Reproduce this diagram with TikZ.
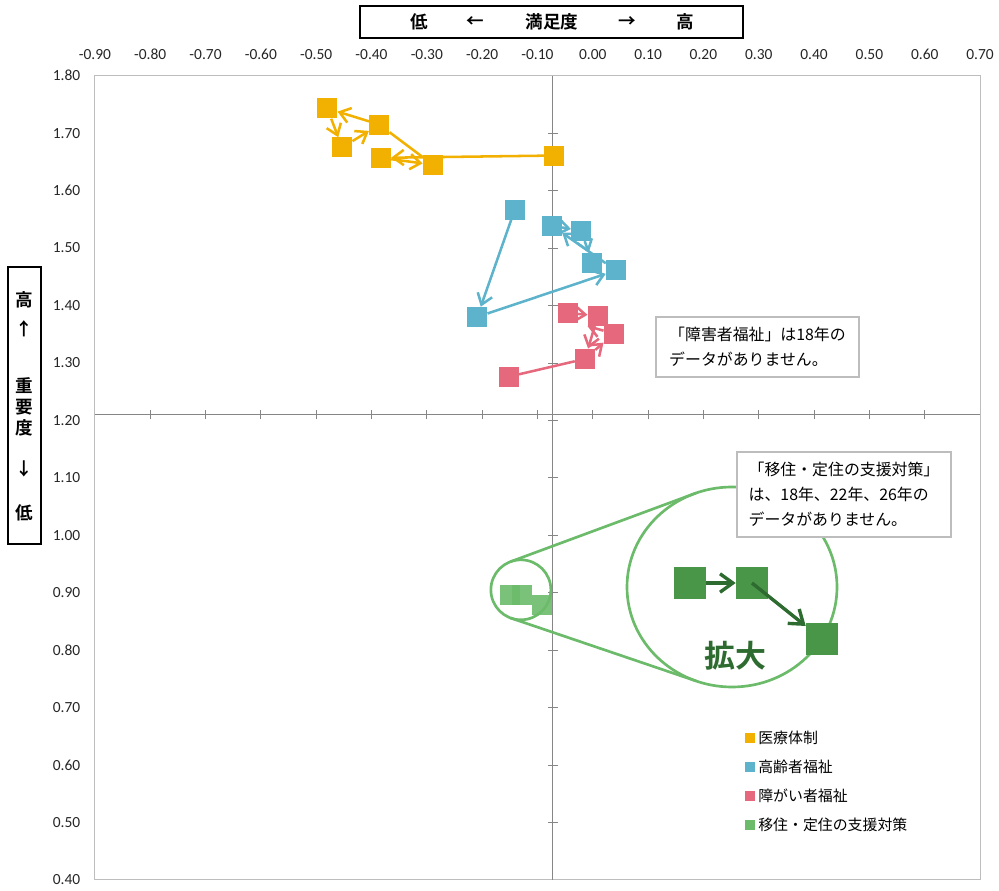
\documentclass[tikz,border=0pt]{standalone}
\usepackage{fontspec}
\setmainfont{Carlito}
\newfontfamily\jp{Noto Sans CJK JP}[BoldFont={Noto Sans CJK JP Bold}]
\usetikzlibrary{arrows.meta,calc}

\pgfdeclarelayer{back}
\pgfsetlayers{back,main}

\definecolor{iryo}{HTML}{F2B000}
\definecolor{korei}{HTML}{5DB3CB}
\definecolor{shogai}{HTML}{E6687C}
\definecolor{iju}{HTML}{6CBB6A}
\definecolor{ijudark}{HTML}{4A9649}
\definecolor{ijuline}{HTML}{2E6B30}
\definecolor{axisgray}{HTML}{868686}
\definecolor{framegray}{HTML}{BDBDBD}

\tikzset{
  mk/.style={rectangle, inner sep=0pt, minimum size=0.5cm, fill=#1},
  trend/.style={draw=#1, line width=1.8pt, -{Straight Barb[length=2.6mm,width=3.8mm]}},
  trendplain/.style={draw=#1, line width=1.8pt},
  bigarrow/.style={draw=ijuline, line width=2.4pt, -{Straight Barb[length=3.2mm,width=4.6mm]}},
  axtick/.style={draw=axisgray, line width=0.6pt},
  ticklab/.style={font=\fontsize{11}{13}\selectfont, text=black!85, inner sep=0pt},
  memo/.style={draw=framegray, fill=white, line width=0.8pt, align=left, inner sep=0pt, font=\jp\fontsize{11.3}{17.8}\selectfont},
  lgtext/.style={font=\jp\fontsize{10.6}{12}\selectfont, anchor=west, inner sep=0pt},
  headtext/.style={font=\jp\bfseries\fontsize{12.5}{14}\selectfont, inner sep=0pt},
  zoomline/.style={draw=iju, line width=1.9pt},
}

\begin{document}
\begin{tikzpicture}[x=0.025cm, y=0.025cm]
  \useasboundingbox (0,0) rectangle (999,890);

  % 満足度 / 重要度 の散布図
  \begin{scope}[shift={(592.8,-219.7)}, x=13.8275cm, y=14.3575cm]
    \begin{pgfonlayer}{back}
      \draw[framegray, line width=0.7pt] (-0.9,0.4) rectangle (0.7,1.8);
      \draw[axisgray, line width=0.7pt] (-0.9,1.21) -- (0.7,1.21);
      \draw[axisgray, line width=0.7pt] (-0.072,0.4) -- (-0.072,1.8);
      \foreach \i in {-8,...,6}
        \draw[axtick] (\i/10,1.21) +(0,-0.12cm) -- +(0,0.12cm);
      \foreach \i in {5,...,17}
        \draw[axtick] (-0.072,\i/10) +(-0.12cm,0) -- +(0.12cm,0);
    \end{pgfonlayer}
    \foreach \x/\t [count=\k] in {-0.9/-0.90, -0.8/-0.80, -0.7/-0.70, -0.6/-0.60,
        -0.5/-0.50, -0.4/-0.40, -0.3/-0.30, -0.2/-0.20, -0.1/-0.10, 0/0.00,
        0.1/0.10, 0.2/0.20, 0.3/0.30, 0.4/0.40, 0.5/0.50, 0.6/0.60, 0.7/0.70}
      \node[ticklab, yshift=0.525cm] (xlab\k) at (\x,1.8) {\t};
    \foreach \y/\t [count=\k] in {0.4/0.40, 0.5/0.50, 0.6/0.60, 0.7/0.70, 0.8/0.80,
        0.9/0.90, 1.0/1.00, 1.1/1.10, 1.2/1.20, 1.3/1.30, 1.4/1.40, 1.5/1.50,
        1.6/1.60, 1.7/1.70, 1.8/1.80}
      \node[ticklab, anchor=east, xshift=-0.36cm] (ylab\k) at (-0.9,\y) {\t};

    % 医療体制
    \node[mk=iryo] (oA) at (-0.480,1.743) {};
    \node[mk=iryo] (oB) at (-0.453,1.675) {};
    \node[mk=iryo] (oC) at (-0.386,1.715) {};
    \node[mk=iryo] (oD) at (-0.383,1.657) {};
    \node[mk=iryo] (oE) at (-0.289,1.645) {};
    \node[mk=iryo] (oF) at (-0.070,1.661) {};
    % 高齢者福祉
    \node[mk=korei] (kA) at (-0.141,1.567) {};
    \node[mk=korei] (kB) at (-0.074,1.539) {};
    \node[mk=korei] (kC) at (-0.021,1.530) {};
    \node[mk=korei] (kD) at (-0.001,1.474) {};
    \node[mk=korei] (kE) at (0.042,1.461) {};
    \node[mk=korei] (kF) at (-0.209,1.380) {};
    % 障がい者福祉
    \node[mk=shogai] (sA) at (-0.045,1.387) {};
    \node[mk=shogai] (sB) at (0.009,1.382) {};
    \node[mk=shogai] (sC) at (0.038,1.351) {};
    \node[mk=shogai] (sD) at (-0.014,1.307) {};
    \node[mk=shogai] (sE) at (-0.152,1.276) {};
    % 移住・定住の支援対策
    \node[mk=iju, fill opacity=0.9] (iA) at (-0.150,0.896) {};
    \node[mk=iju, fill opacity=0.9] (iB) at (-0.128,0.896) {};
    \node[mk=iju, fill opacity=0.9] (iC) at (-0.092,0.879) {};
    \coordinate (zs) at (-0.130,0.905);
  \end{scope}

  \begin{pgfonlayer}{back}
    \draw[trend=iryo] (oF) -- (oD);
    \draw[trend=iryo] (oD) -- (oE);
    \draw[trendplain=iryo] (oE) -- (oC);
    \draw[trend=iryo] (oC) -- (oA);
    \draw[trend=iryo] (oA) -- (oB);
    \draw[trend=iryo] (oB) -- (oC);
    \draw[trend=korei] (kA) -- (kF);
    \draw[trend=korei] (kF) -- (kE);
    \draw[trend=korei] (kE) -- (kB);
    \draw[trend=korei] (kB) -- (kC);
    \draw[trend=korei] (kC) -- (kD);
    \draw[trend=shogai] (sA) -- (sB);
    \draw[trend=shogai] (sB) -- (sD);
    \draw[trend=shogai] (sC) -- (sB.south west);
    \draw[trend=shogai] (sD) -- (sC);
    \draw[trendplain=shogai] (sE) -- (sD);
    % 拡大
    \coordinate (zb) at (732,303);
    \draw[zoomline] (zs) circle [radius=30];
    \draw[zoomline] (zb) ellipse [x radius=105, y radius=100];
    \draw[zoomline] ($(zs)+(110:30)$) -- ($(zb)+(110:105 and 100)$);
    \draw[zoomline] ($(zs)+(250:30)$) -- ($(zb)+(250:105 and 100)$);
  \end{pgfonlayer}

  \node[mk=ijudark, minimum size=0.8cm] (gA) at (690,307) {};
  \node[mk=ijudark, minimum size=0.8cm] (gB) at (752,307) {};
  \node[mk=ijudark, minimum size=0.8cm] (gC) at (822,251) {};
  \draw[bigarrow] (gA) -- (gB);
  \draw[bigarrow] (gB.center) -- (gC);
  \node[font=\jp\bfseries\fontsize{22}{24}\selectfont, text=ijuline, inner sep=0pt] (kakudai) at (735,234) {拡大};

  % 注記
  \node[memo, minimum width=5.075cm, minimum height=1.5cm] (memo1) at (757.5,543)
    {「障害者福祉」は18年の\\データがありません。};
  \node[memo, minimum width=5.35cm, minimum height=2.125cm] (memo2) at (844,395.5)
    {「移住・定住の支援対策」\\は、18年、22年、26年の\\データがありません。};

  % 凡例
  \foreach \c/\t [count=\k] in {iryo/医療体制, korei/高齢者福祉, shogai/障がい者福祉, iju/移住・定住の支援対策} {
    \node[mk=\c, minimum size=0.25cm] (lgbox\k) at (750,181-29*\k) {};
    \node[lgtext] (lgtext\k) at (758,181-29*\k) {\t};
  }

  % 軸の見出し
  \draw[line width=1pt] (360,852) rectangle (743,884);
  \node[headtext] (hlow) at (419,868) {低};
  \node[headtext] (hleft) at (475,868) {←};
  \node[headtext] (hsat) at (552,868) {満足度};
  \node[headtext] (hright) at (627,868) {→};
  \node[headtext] (hhigh) at (685,868) {高};

  \draw[line width=1pt] (8,346) rectangle (41,623);
  \node[headtext] (vhigh) at (24.5,590) {高};
  \node[headtext] (vup) at (24.5,561) {↑};
  \node[headtext] (vimp1) at (24.5,504) {重};
  \node[headtext] (vimp2) at (24.5,483) {要};
  \node[headtext] (vimp3) at (24.5,462) {度};
  \node[headtext] (vdown) at (24.5,421) {↓};
  \node[headtext] (vlow) at (24.5,377) {低};
\end{tikzpicture}
\end{document}
